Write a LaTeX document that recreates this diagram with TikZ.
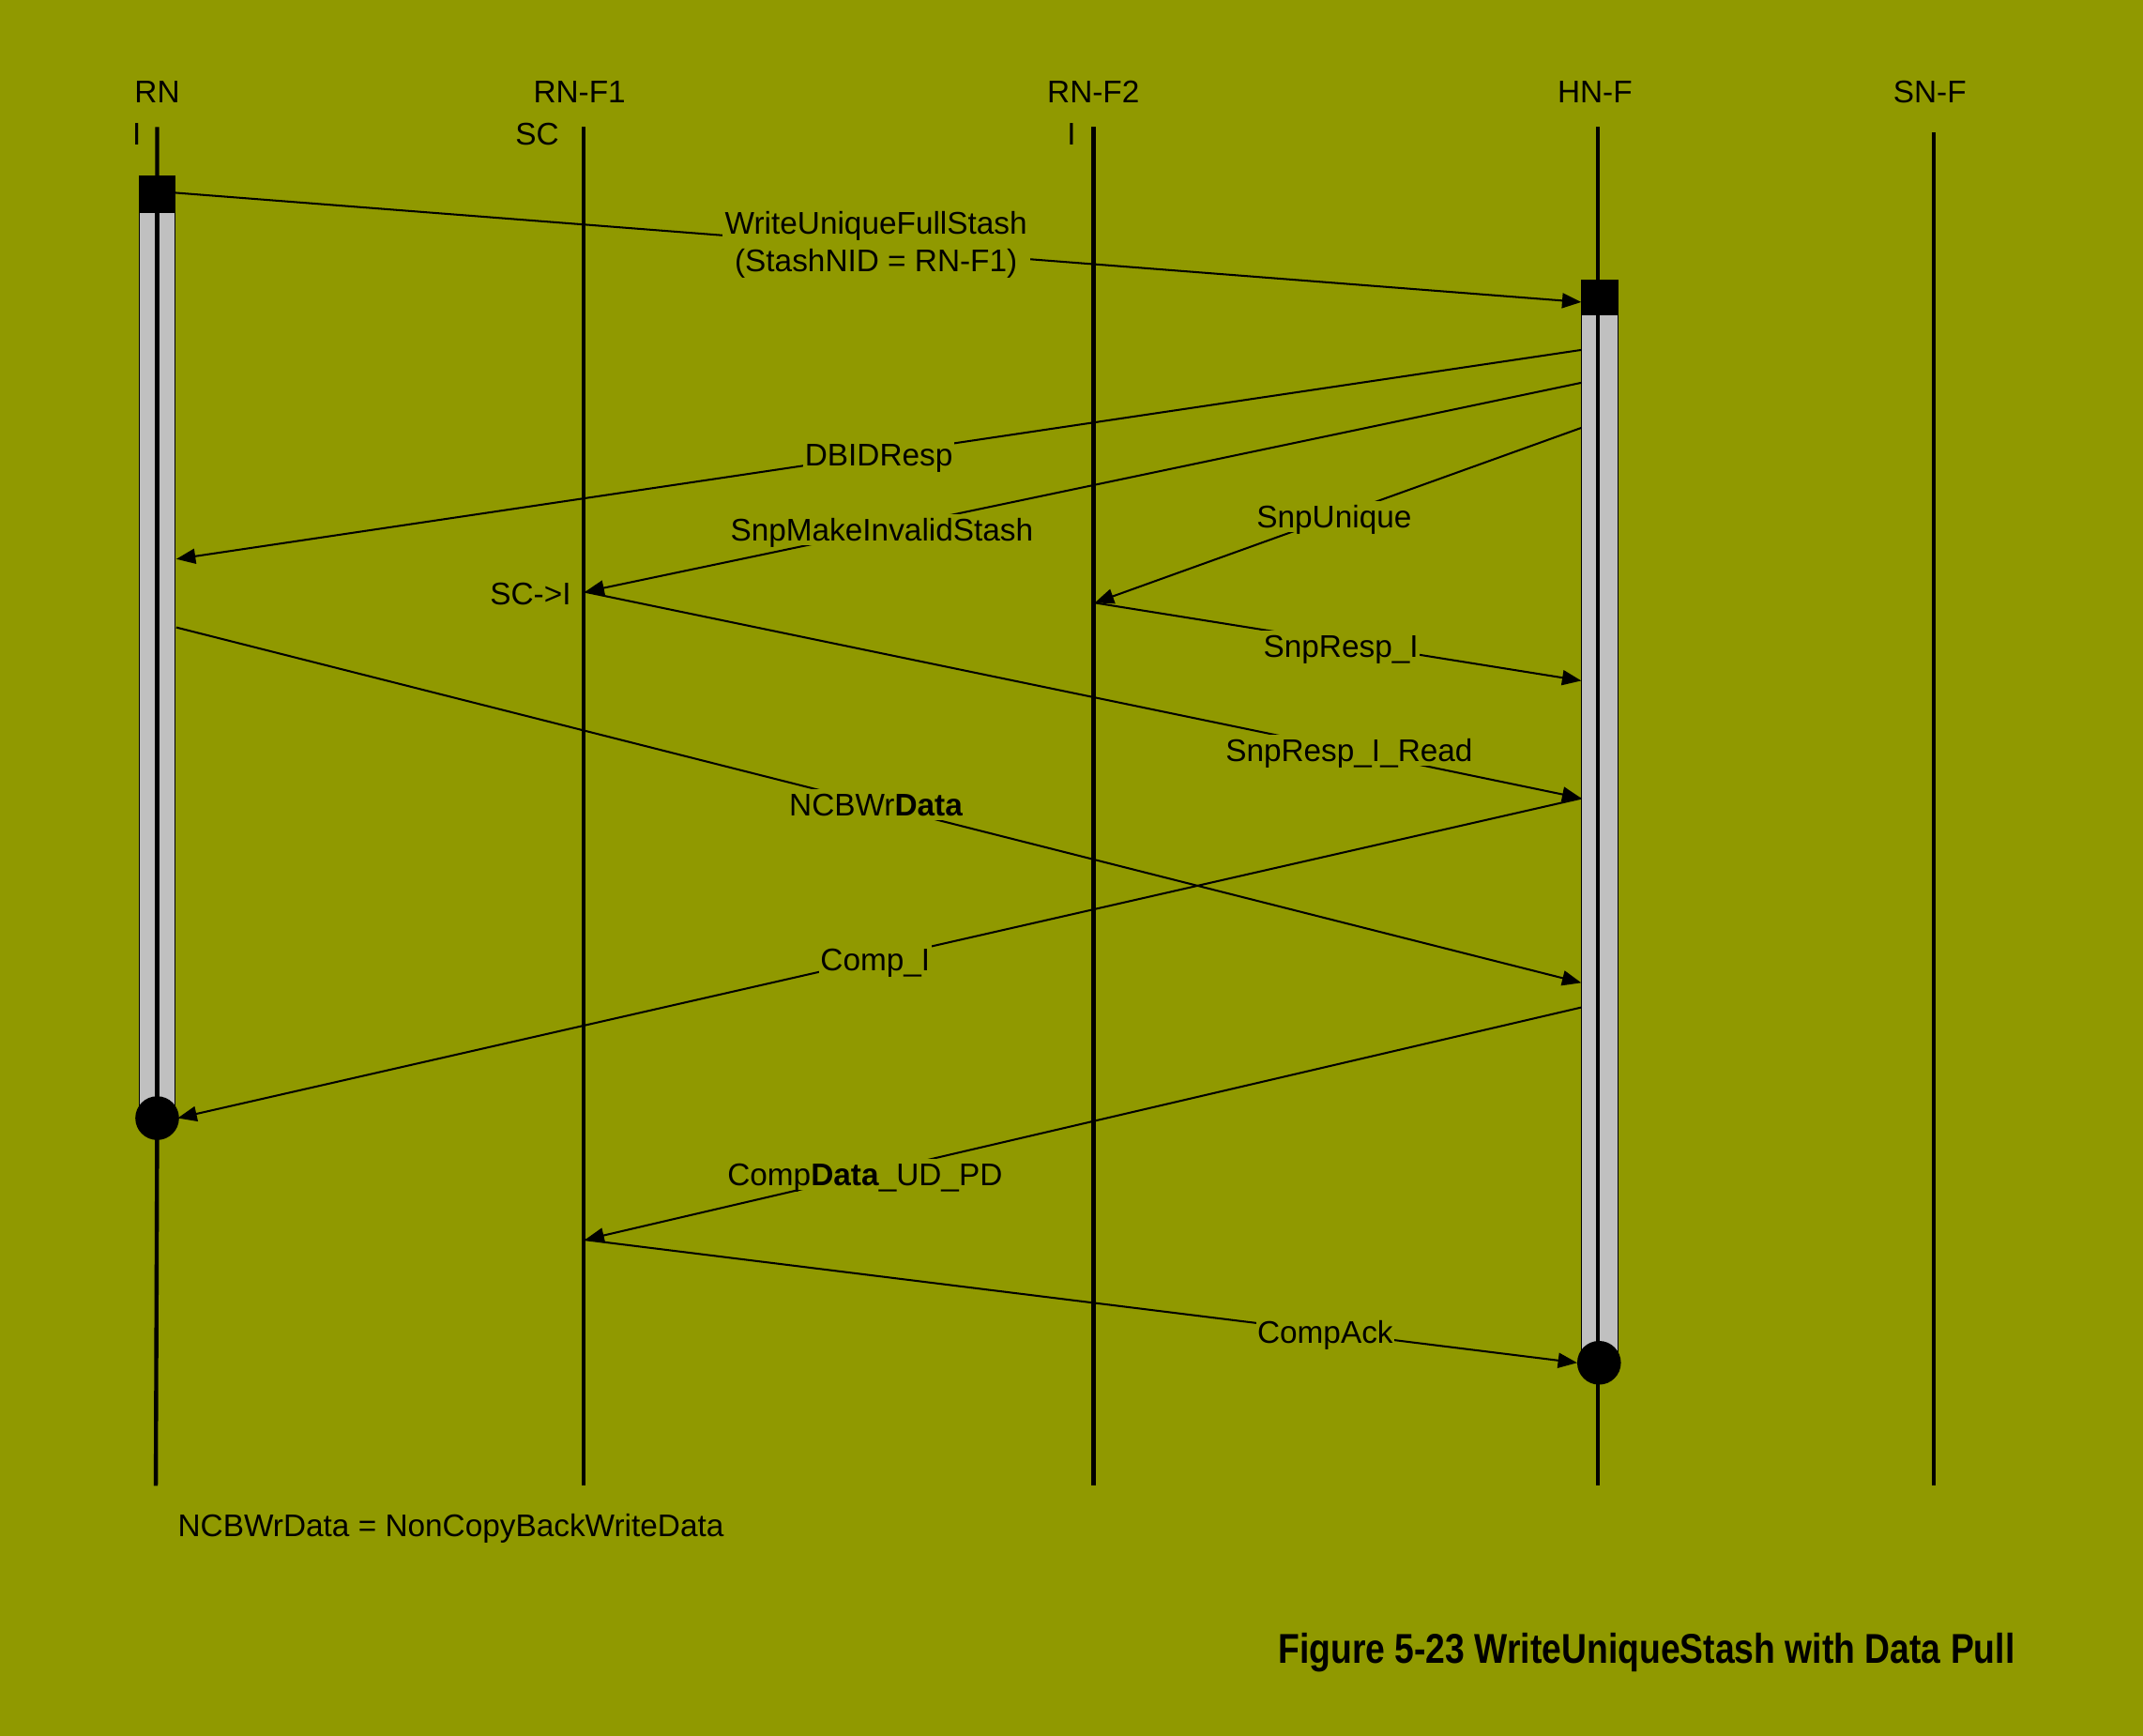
\documentclass[tikz,border=0pt]{standalone}
\usepackage{fontspec}
\usepackage{graphicx}
\setmainfont{Liberation Sans}
\usetikzlibrary{arrows.meta}
\definecolor{bg}{RGB}{144,153,0}
\definecolor{barfill}{RGB}{192,192,192}
\begin{document}
\begin{tikzpicture}[x=1pt,y=-1pt,
  lifeline/.style={line width=3pt},
  msg/.style={line width=1.4pt,-{Triangle[length=14pt,width=11pt]}},
  lbl/.style={fill=bg,inner xsep=1pt,inner ysep=3pt,text height=16.5pt,text depth=0pt,font=\fontsize{22.9}{27}\selectfont},
  txt/.style={inner sep=0pt,text height=16.5pt,text depth=0pt,font=\fontsize{22.9}{27}\selectfont},
  actbar/.style={draw=black,line width=1pt,fill=barfill},
  ]
\fill[bg] (0,0) rectangle (1568,1270);
\useasboundingbox (0,0) rectangle (1568,1270);

% headers
\node[txt] (hRN)  at (115,67)  {RN};
\node[txt] (hRF1) at (424,67)  {RN-F1};
\node[txt] (hRF2) at (800,67)  {RN-F2};
\node[txt] (hHN)  at (1167,67) {HN-F};
\node[txt] (hSN)  at (1412,67) {SN-F};
\node[txt] (sRN)  at (100,98)  {I};
\node[txt] (sRF1) at (393,98)  {SC};
\node[txt] (sRF2) at (784,98)  {I};

% lifeline ends
\coordinate (tRN) at (115,93);   \coordinate (bRN) at (114,1087);
\coordinate (tRF1) at (427,93);  \coordinate (bRF1) at (427,1087);
\coordinate (tRF2) at (800,93);  \coordinate (bRF2) at (800,1087);
\coordinate (tHN) at (1169,93);  \coordinate (bHN) at (1169,1087);
\coordinate (tSN) at (1415,97);  \coordinate (bSN) at (1415,1087);

\draw[lifeline] (tRN) -- (115,818) -- (bRN);
\draw[lifeline] (tRF1) -- (bRF1);
\draw[lifeline] (tRF2) -- (bRF2);
\draw[lifeline] (tHN) -- (bHN);
\draw[lifeline] (tSN) -- (bSN);

% activation bars
\draw[actbar] (102,129) rectangle (128,812);
\draw[lifeline] (115,129) -- (115,812);
\fill[black] (102,129) rectangle (128,156);
\fill[black] (115,818) circle (16);

\draw[actbar] (1157,205) rectangle (1184,990);
\draw[lifeline] (1169,205) -- (1169,990);
\fill[black] (1157,205) rectangle (1184,231);
\fill[black] (1170,997) circle (16);

% message end points
\coordinate (m1a) at (128,141);   \coordinate (m1b) at (1157,221);
\coordinate (m2a) at (1157,256);  \coordinate (m2b) at (129,409);
\coordinate (m3a) at (1157,280);  \coordinate (m3b) at (428,433);
\coordinate (m4a) at (1157,313);  \coordinate (m4b) at (801,441);
\coordinate (m5b) at (1157,498);
\coordinate (m6b) at (1157,584);
\coordinate (m7a) at (129,459);   \coordinate (m7b) at (1157,719);
\coordinate (m8b) at (130,818);
\coordinate (m9a) at (1157,737);  \coordinate (m9b) at (428,907);
\coordinate (m10b) at (1154,997);

\draw[msg] (m1a) -- (m1b);
\node[fill=bg,inner sep=2pt,align=center,font=\fontsize{22.9}{27}\selectfont] (l1) at (641,179)
  {WriteUniqueFullStash\\(StashNID = RN-F1)};
\draw[msg] (m2a) -- node[lbl,pos=0.5] (l2) {DBIDResp} (m2b);
\draw[msg] (m3a) -- node[lbl,pos=0.702] (l3) {SnpMakeInvalidStash} (m3b);
\draw[msg] (m4a) -- node[lbl,pos=0.508] (l4) {SnpUnique} (m4b);
\draw[msg] (m4b) -- node[lbl,pos=0.506,yshift=-3pt] (l5) {SnpResp\_I} (m5b);
\draw[msg] (m3b) -- node[lbl,pos=0.767] (l6) {SnpResp\_I\_Read} (m6b);
\draw[msg] (m7a) -- node[lbl,pos=0.498] (l7) {NCBWr\textbf{Data}} (m7b);
\draw[msg] (m6b) -- node[lbl,pos=0.503] (l8) {Comp\_I} (m8b);
\draw[msg] (m9a) -- node[lbl,pos=0.719] (l9) {Comp\textbf{Data}\_UD\_PD} (m9b);
\draw[msg] (m9b) -- node[lbl,pos=0.746] (l10) {CompAck} (m10b);

\node[txt,anchor=east] (sci) at (418,434) {SC->I};

\node[txt,anchor=west] (note) at (130,1116) {NCBWrData = NonCopyBackWriteData};
\node[inner sep=0pt,anchor=west] (title) at (935,1209)
  {\fontsize{30.5}{34}\selectfont\bfseries\scalebox{0.84}[1]{Figure 5-23 WriteUniqueStash with Data Pull}};
\end{tikzpicture}
\end{document}
